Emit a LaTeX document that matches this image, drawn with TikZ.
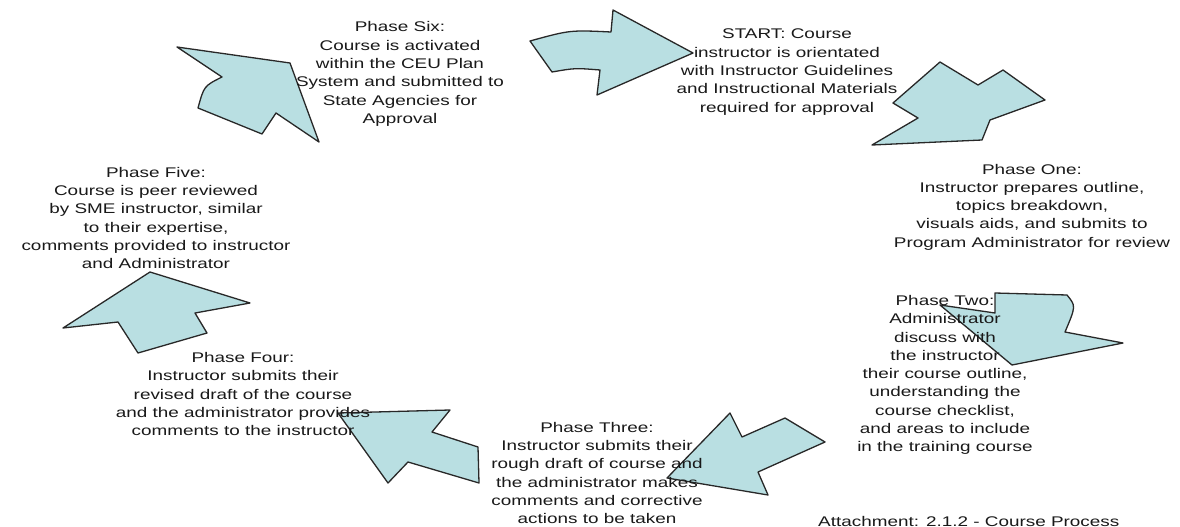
\documentclass[tikz,border=0pt]{standalone}
\usepackage{fontspec}
\setmainfont{Liberation Sans}
\newfontfamily\widefont[FakeStretch=1.35]{Liberation Sans}
\definecolor{arrowfill}{RGB}{185,223,226}
\definecolor{arrowline}{RGB}{40,40,40}
\begin{document}
\begin{tikzpicture}[x=1pt,y=-1pt,
  blockarrow/.style={fill=arrowfill,draw=arrowline,line width=1.3pt,line join=round},
  phase/.style={align=center,font=\widefont\fontsize{14}{18.3}\selectfont,inner sep=0pt,text=black!90}]
\useasboundingbox (0,0) rectangle (1180,527);
\fill[white] (0,0) rectangle (1180,527);

% block arrows of the cycle
\draw[blockarrow] (290,63) -- (177,47) -- (222,77) .. controls (204,86) .. (198,108) -- (262,134) -- (276,113) -- (319,142) -- cycle;
\draw[blockarrow] (693,53) -- (613,10) -- (611,32) .. controls (570,30) .. (530,41) -- (552,72) .. controls (575,68) .. (600,70) -- (597,95) -- cycle;
\draw[blockarrow] (940,62) -- (978,85) -- (1003,70) -- (1045,100) -- (990,120) -- (982,140) -- (872,145) -- (918,118) -- (893,103) -- cycle;
\draw[blockarrow] (995,293) -- (1067,295) .. controls (1076,306) .. (1065,332) -- (1123,343) -- (1012,365) -- (940,305) -- (995,313) -- cycle;
\draw[blockarrow] (667,478) -- (730,413) -- (742,437) -- (785,418) -- (825,442) -- (758,472) -- (768,495) -- cycle;
\draw[blockarrow] (338,413) -- (450,410) -- (432,432) -- (478,447) -- (479,483) -- (408,462) -- (388,483) -- cycle;
\draw[blockarrow] (150,272) -- (250,303) -- (195,313) -- (207,333) -- (138,353) -- (118,322) -- (63,328) -- cycle;

% phase texts
\node[phase] (six) at (400,74) {Phase  Six:\\Course  is activated\\within  the  CEU Plan\\System  and submitted  to\\State  Agencies for\\Approval};
\node[phase] (start) at (787,72) {START:  Course\\instructor  is orientated\\with  Instructor  Guidelines\\and  Instructional  Materials\\required for  approval};
\node[phase] (one) at (1032,207) {Phase  One:\\Instructor  prepares outline,\\topics breakdown,\\visuals  aids,  and  submits  to\\Program  Administrator  for  review};
\node[phase] (two) at (945,375) {Phase  Two:\\Administrator\\discuss with\\the  instructor\\their  course  outline,\\understanding  the\\course checklist,\\and  areas  to  include\\in the  training course};
\node[phase] (three) at (597,473) {Phase  Three:\\Instructor  submits their\\rough  draft  of  course  and\\the  administrator  makes\\comments  and  corrective\\actions  to be  taken};
\node[phase] (four) at (243,394) {Phase  Four:\\Instructor  submits their\\revised  draft of the  course\\and  the  administrator  provides\\comments  to the  instructor};
\node[phase] (five) at (156,218) {Phase  Five:\\Course  is peer  reviewed\\by  SME instructor,  similar\\to their  expertise,\\comments  provided  to  instructor\\and  Administrator};
\node[phase,anchor=north west] (caption) at (818,516) {Attachment:  2.1.2  - Course  Process};
\end{tikzpicture}
\end{document}
